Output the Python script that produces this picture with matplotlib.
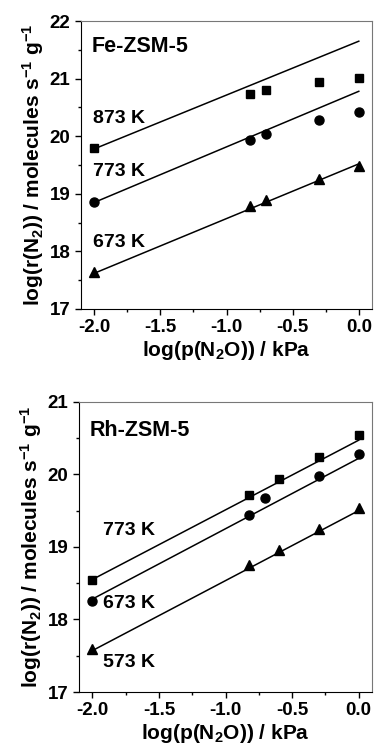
import matplotlib
matplotlib.use('Agg')
import matplotlib.pyplot as plt
from matplotlib.ticker import MultipleLocator, FuncFormatter

plt.rcParams['font.family'] = 'Liberation Sans'
plt.rcParams['font.weight'] = 'bold'
plt.rcParams['axes.labelweight'] = 'bold'
plt.rcParams['mathtext.default'] = 'regular'

# Fe-ZSM-5 data
fe_x = [-2.0, -0.82, -0.7, -0.3, 0.0]
fe_873 = [19.80, 20.73, 20.80, 20.94, 21.01]
fe_773 = [18.86, 19.93, 20.03, 20.28, 20.42]
fe_673 = [17.64, 18.78, 18.90, 19.26, 19.49]
fe_fit_873 = [19.78, 21.65]
fe_fit_773 = [18.85, 20.78]
fe_fit_673 = [17.62, 19.52]

# Rh-ZSM-5 data
rh_x_773 = [-2.0, -0.82, -0.6, -0.3, 0.0]
rh_773 = [18.54, 19.71, 19.94, 20.24, 20.54]
rh_x_673 = [-2.0, -0.82, -0.7, -0.3, 0.0]
rh_673 = [18.26, 19.44, 19.67, 19.98, 20.28]
rh_x_573 = [-2.0, -0.82, -0.6, -0.3, 0.0]
rh_573 = [17.59, 18.75, 18.96, 19.24, 19.53]
rh_fit_773 = [18.55, 20.47]
rh_fit_673 = [18.28, 20.22]
rh_fit_573 = [17.57, 19.50]

fit_x = [-2.0, 0.0]

fig = plt.figure(figsize=(3.74, 7.54), dpi=100)
ax1 = fig.add_axes([0.2166, 0.5902, 0.7781, 0.3819])
ax2 = fig.add_axes([0.2112, 0.0822, 0.7835, 0.3850])

# top panel
ax1.plot(fit_x, fe_fit_873, 'k-', lw=1.1)
ax1.plot(fit_x, fe_fit_773, 'k-', lw=1.1)
ax1.plot(fit_x, fe_fit_673, 'k-', lw=1.1)
ax1.plot(fe_x, fe_873, 'ks', ms=6, ls='none')
ax1.plot(fe_x, fe_773, 'ko', ms=6.5, ls='none')
ax1.plot(fe_x, fe_673, 'k^', ms=7, ls='none')
ax1.text(-2.01, 20.31, '873 K', fontsize=14, fontweight='bold', va='center')
ax1.text(-2.01, 19.38, '773 K', fontsize=14, fontweight='bold', va='center')
ax1.text(-2.01, 18.16, '673 K', fontsize=14, fontweight='bold', va='center')
ax1.text(-2.02, 21.55, 'Fe-ZSM-5', fontsize=15.5, fontweight='bold', va='center')
ax1.set_ylim(17, 22)

# bottom panel
ax2.plot(fit_x, rh_fit_773, 'k-', lw=1.1)
ax2.plot(fit_x, rh_fit_673, 'k-', lw=1.1)
ax2.plot(fit_x, rh_fit_573, 'k-', lw=1.1)
ax2.plot(rh_x_773, rh_773, 'ks', ms=6, ls='none')
ax2.plot(rh_x_673, rh_673, 'ko', ms=6.5, ls='none')
ax2.plot(rh_x_573, rh_573, 'k^', ms=7, ls='none')
ax2.text(-1.92, 19.23, '773 K', fontsize=14, fontweight='bold', va='center')
ax2.text(-1.92, 18.22, '673 K', fontsize=14, fontweight='bold', va='center')
ax2.text(-1.92, 17.40, '573 K', fontsize=14, fontweight='bold', va='center')
ax2.text(-2.02, 20.61, 'Rh-ZSM-5', fontsize=15.5, fontweight='bold', va='center')
ax2.set_ylim(17, 21)

for ax in (ax1, ax2):
    ax.set_xlim(-2.1, 0.1)
    ax.xaxis.set_major_locator(MultipleLocator(0.5))
    ax.xaxis.set_minor_locator(MultipleLocator(0.25))
    ax.yaxis.set_major_locator(MultipleLocator(1))
    ax.yaxis.set_minor_locator(MultipleLocator(0.5))
    ax.xaxis.set_major_formatter(FuncFormatter(lambda v, p: '%.1f' % v))
    ax.yaxis.set_major_formatter(FuncFormatter(lambda v, p: '%d' % v))
    ax.tick_params(which='both', direction='out', top=False, right=False, labelsize=13.5, width=1)
    ax.tick_params(which='major', length=4)
    ax.tick_params(which='minor', length=2.5)
    for lab in ax.get_xticklabels() + ax.get_yticklabels():
        lab.set_fontweight('bold')
    for s in ('top', 'right'):
        ax.spines[s].set_color('#777777')
        ax.spines[s].set_linewidth(0.8)
    ax.set_xlabel(r'log(p(N$_2$O)) / kPa', fontsize=15, fontweight='bold', labelpad=2)
    ax.set_ylabel(r'log(r(N$_2$)) / molecules s$^{-1}$ g$^{-1}$', fontsize=15, fontweight='bold', labelpad=3)

plt.savefig('out.png', dpi=100)
